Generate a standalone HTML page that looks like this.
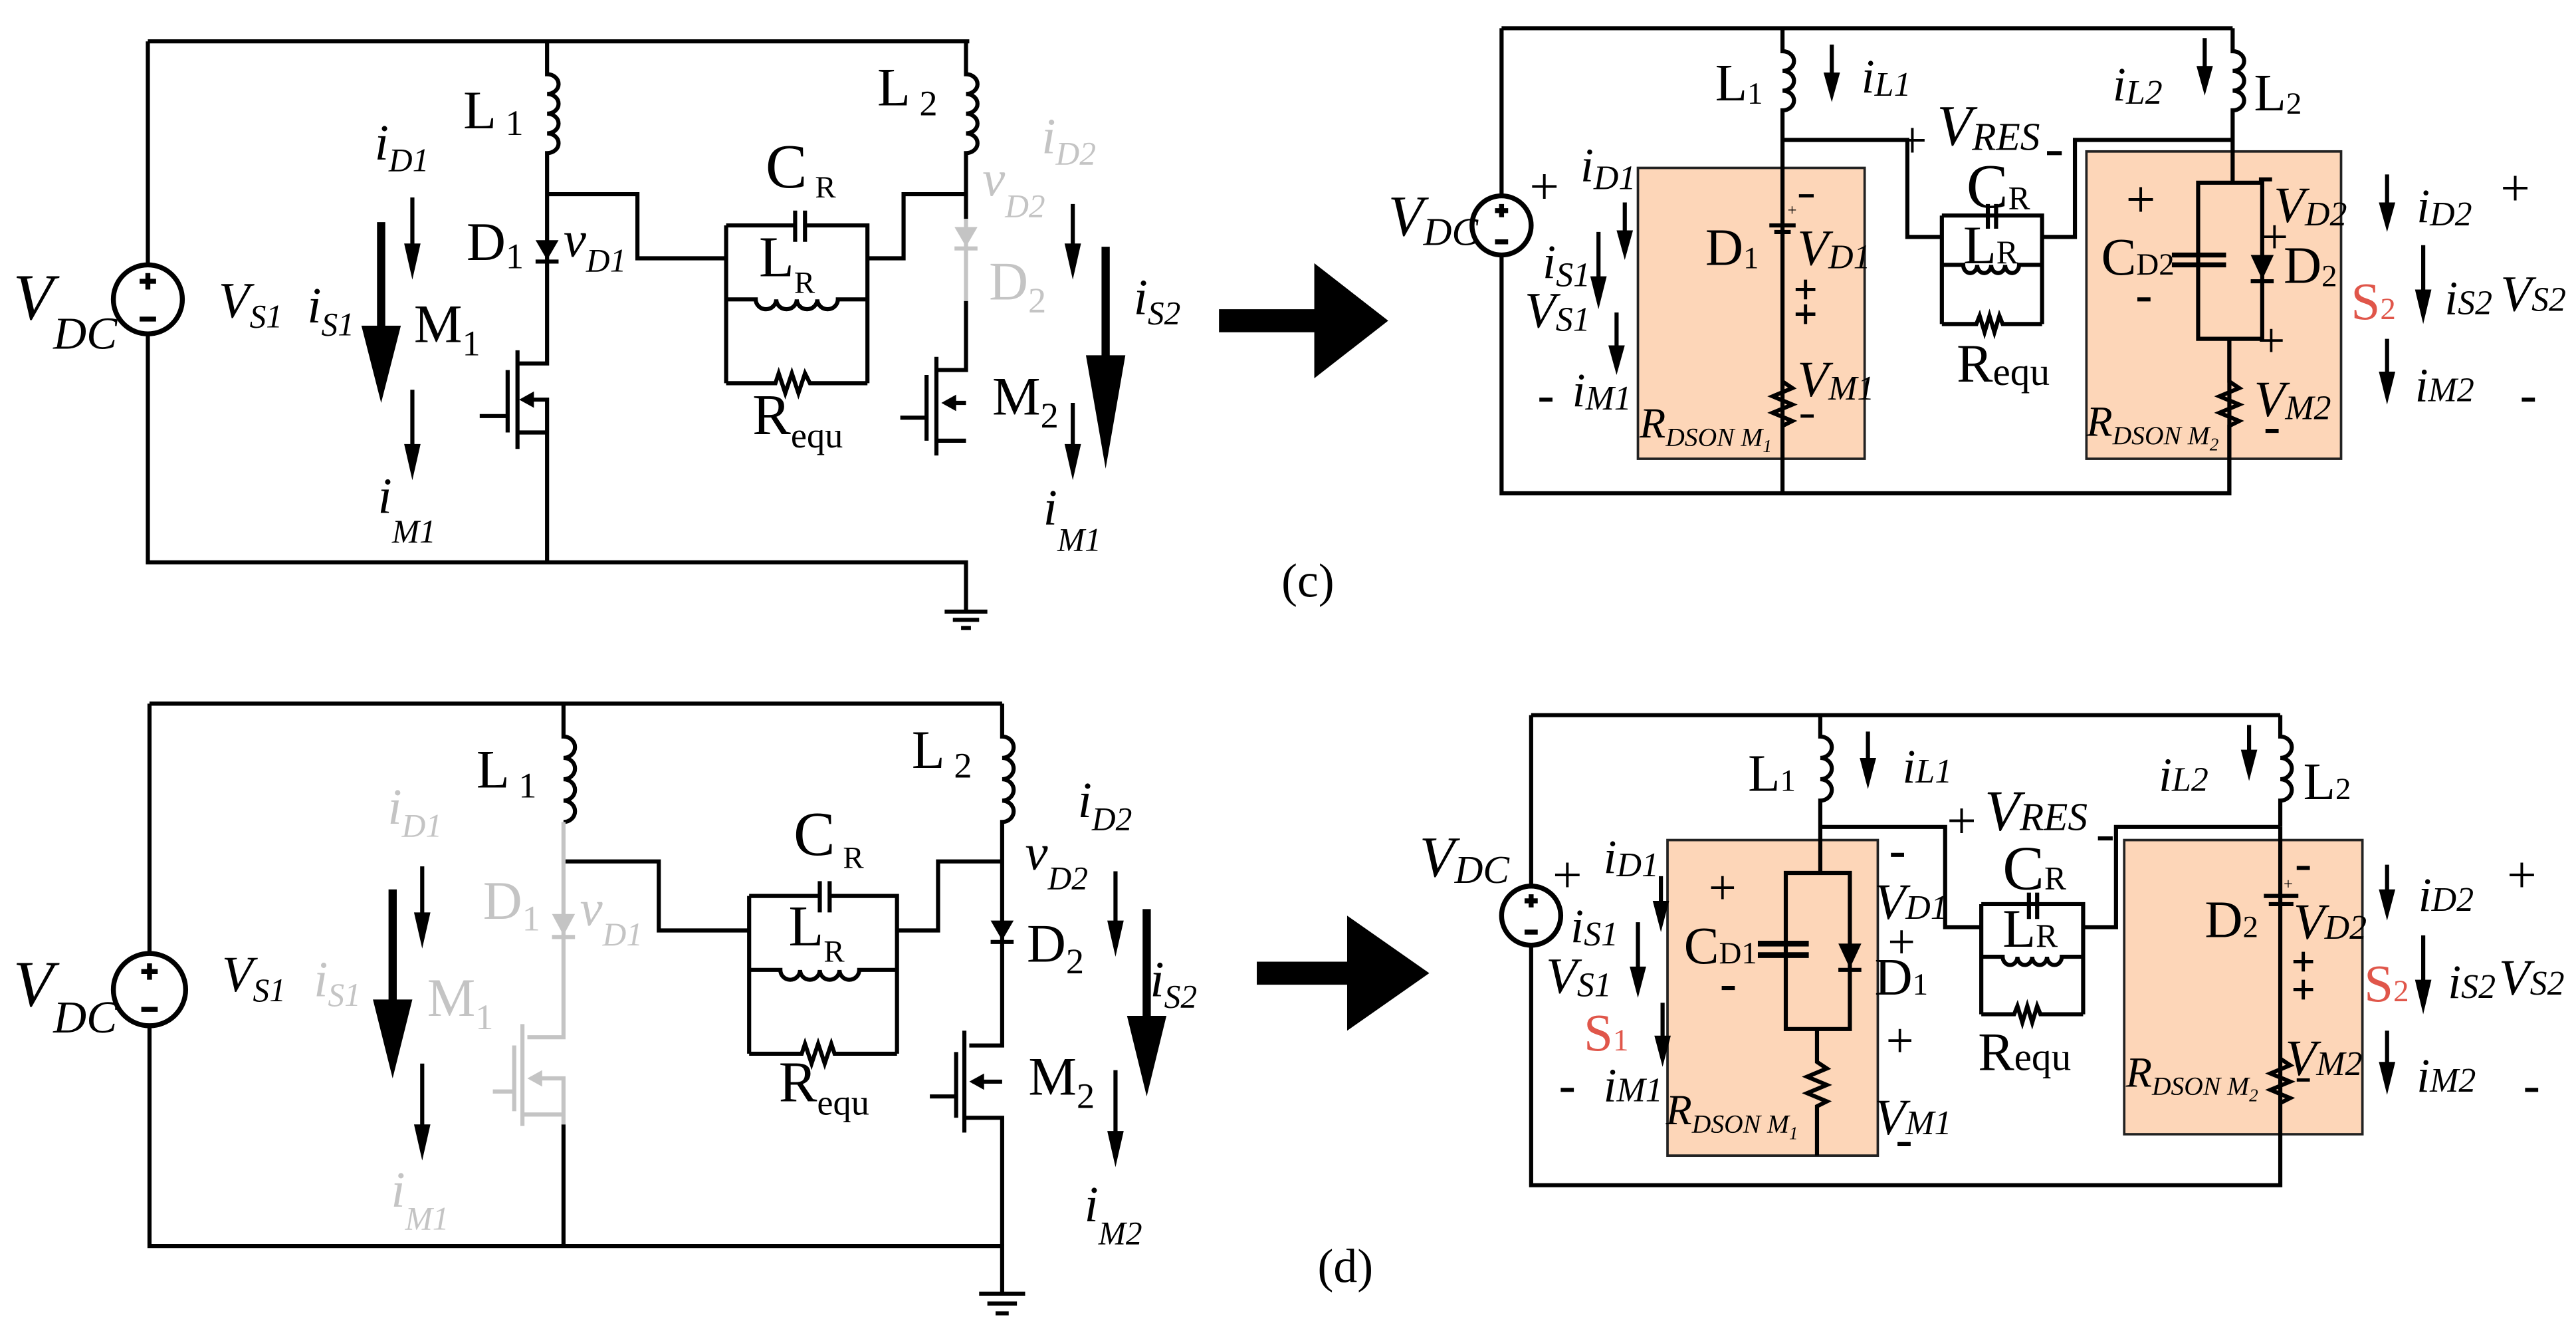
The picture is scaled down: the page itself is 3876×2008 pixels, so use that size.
<!DOCTYPE html>
<html><head><meta charset="utf-8"><style>
html,body{margin:0;padding:0;background:#fff}
svg{display:block}
text{font-family:"Liberation Serif",serif;fill:#000}
.i{font-style:italic}
.g{fill:#c4c4c4}
.r{fill:#e0564a}
</style></head><body>
<svg width="3876" height="2008" viewBox="0 0 1568 812" xmlns="http://www.w3.org/2000/svg">
<g fill="none" stroke="#000" stroke-width="2.5" stroke-linejoin="miter">
<!-- ================= (c) LEFT ================= -->
<path d="M90 25 H590 M90 25 V161 M90 203 V342 H588 V372"/>
<circle cx="90" cy="182" r="21" stroke-width="3" fill="#fff"/>
<path d="M85 171 H95 M90 166 V176 M85 194 H95" stroke-width="3"/>
<path d="M333 25 V45 a7 6 0 0 1 0 12 a7 6 0 0 1 0 12 a7 6 0 0 1 0 12 a7 6 0 0 1 0 12 V221 H315"/>
<path d="M333 118 H388 V157 H442"/>
<path d="M315 213 V273 M309 225 V263 M292 253 H309 M320 243 H333 V342 M315 263 H333"/>
<path d="M442 137 V233 M442 137 H484 M490 137 H528 V233 M484 128 V147 M490 128 V147"/>
<path d="M442 182 H460 a6.25 6 0 0 0 12.5 0 a6.25 6 0 0 0 12.5 0 a6.25 6 0 0 0 12.5 0 a6.25 6 0 0 0 12.5 0 H528"/>
<path d="M442 233 H472 l2 -6 l4 12 l4 -12 l4 12 l4 -12 l3 6 H528"/>
<path d="M528 157 H550 V118 H588"/>
<path d="M588 25 V45 a7 6 0 0 1 0 12 a7 6 0 0 1 0 12 a7 6 0 0 1 0 12 a7 6 0 0 1 0 12 V133"/>
<path d="M588 183 V225 H570"/>
<path d="M570 217 V277 M564 228 V268 M548 254 H564 M575 245 H588 M570 268 H588"/>
<path d="M575 372 H601 M580 377 H596 M585 382 H591"/>
</g>
<polygon points="326,146 340,146 333,158" fill="#000"/>
<path d="M326 159 H340" stroke="#000" stroke-width="2.5"/>
<polygon points="316,243 325,238 325,248" fill="#000"/>
<polygon points="573,245 582,240 582,250" fill="#000"/>
<g stroke="#c4c4c4" stroke-width="2.5" fill="none"><path d="M588 133 V183"/><path d="M581 151 H595"/></g>
<polygon points="581,138 595,138 588,150" fill="#c4c4c4"/>
<g stroke="#000" stroke-width="2.5"><path d="M251 120 V150 M251 237 V272 M653 124 V150 M653 245 V272"/></g>
<polygon points="246,148 256,148 251,170" fill="#000"/>
<polygon points="246,270 256,270 251,292" fill="#000"/>
<polygon points="648,148 658,148 653,170" fill="#000"/>
<polygon points="648,270 658,270 653,292" fill="#000"/>
<path d="M232 135 V200 M673 150 V218" stroke="#000" stroke-width="5"/>
<polygon points="220,198 244,198 232,245" fill="#000"/>
<polygon points="661,216 685,216 673,285" fill="#000"/>
<polygon points="742,188 800,188 800,160 845,195 800,230 800,202 742,202" fill="#000"/>
<text x="8" y="194" class="i" font-size="40">V<tspan font-size="28" dy="18">DC</tspan></text>
<text x="133" y="193" class="i" font-size="31">V<tspan font-size="20" dy="6">S1</tspan></text>
<text x="187" y="196" class="i" font-size="31">i<tspan font-size="20" dy="8">S1</tspan></text>
<text x="228" y="97" class="i" font-size="31">i<tspan font-size="20" dy="7">D1</tspan></text>
<text x="252" y="208" font-size="33">M<tspan font-size="22" dy="8">1</tspan></text>
<text x="230" y="312" class="i" font-size="31">i<tspan font-size="20" dy="18">M1</tspan></text>
<text x="282" y="78" font-size="33">L<tspan font-size="22" dy="4"> 1</tspan></text>
<text x="284" y="158" font-size="33">D<tspan font-size="22" dy="5">1</tspan></text>
<text x="343" y="156" class="i" font-size="31">v<tspan font-size="20" dy="9">D1</tspan></text>
<text x="466" y="114" font-size="38">C<tspan font-size="19" dy="6"> R</tspan></text>
<text x="462" y="168" font-size="35">L<tspan font-size="19" dy="10">R</tspan></text>
<text x="458" y="264" font-size="35">R<tspan font-size="22" dy="8">equ</tspan></text>
<text x="534" y="64" font-size="33">L<tspan font-size="22" dy="6"> 2</tspan></text>
<text x="634" y="93" class="i g" font-size="31">i<tspan font-size="20" dy="7">D2</tspan></text>
<text x="598" y="119" class="i g" font-size="31">v<tspan font-size="20" dy="13">D2</tspan></text>
<text x="602" y="182" class="g" font-size="33">D<tspan font-size="22" dy="8">2</tspan></text>
<text x="604" y="252" font-size="33">M<tspan font-size="22" dy="8">2</tspan></text>
<text x="690" y="191" class="i" font-size="31">i<tspan font-size="20" dy="6">S2</tspan></text>
<text x="635" y="319" class="i" font-size="31">i<tspan font-size="20" dy="16">M1</tspan></text>
<text x="780" y="363" font-size="29">(c)</text>

<!-- ================= (c) RIGHT ================= -->
<rect x="997" y="102" width="138" height="177" fill="#fdd6b8" stroke="#222" stroke-width="1.5"/>
<rect x="1270" y="92" width="155" height="187" fill="#fdd6b8" stroke="#222" stroke-width="1.5"/>
<g fill="none" stroke="#000" stroke-width="2.5">
<path d="M914 17 H1359 M914 17 V119 M914 155 V300 H1357 V206"/>
<path d="M1085 17 V31 a7 6 0 0 1 0 12 a7 6 0 0 1 0 12 a7 6 0 0 1 0 12 V300"/>
<path d="M1085 85 H1161 V144 H1182"/>
<path d="M1182 131 V197 M1182 131 H1243 V197 M1210 124 V139 M1215 124 V139"/>
<path d="M1182 161 H1195 a4.25 5 0 0 0 8.5 0 a4.25 5 0 0 0 8.5 0 a4.25 5 0 0 0 8.5 0 a4.25 5 0 0 0 8.5 0 H1243"/>
<path d="M1182 197 H1203 l2 -5 l3 10 l3 -10 l3 10 l3 -10 l2 5 H1243"/>
<path d="M1243 144 H1263 V85 H1359"/>
<path d="M1359 17 V31 a7 6 0 0 1 0 12 a7 6 0 0 1 0 12 a7 6 0 0 1 0 12 V111"/>
<path d="M1338 111 H1377 V206 H1338 Z"/>
<path d="M1357 206 V232 l6 4 l-12 5 l12 5 l-12 5 l12 5 l-6 3 V300"/>
<path d="M1085 232 l6 4 l-12 5 l12 5 l-12 5 l12 5 l-6 3"/>
</g>
<circle cx="914" cy="137" r="18" fill="#fff" stroke="#000" stroke-width="3"/>
<path d="M910 128 H918 M914 124 V132 M910 147 H918" stroke="#000" stroke-width="3"/>
<path d="M1322 155 H1355 M1322 161 H1355" stroke="#000" stroke-width="3"/>
<polygon points="1370,155 1384,155 1377,170" fill="#000"/>
<path d="M1370 171 H1384" stroke="#000" stroke-width="2.5"/>
<path d="M1077 137 H1093 M1080 141 H1090" stroke="#000" stroke-width="2.5"/>
<g stroke="#000" stroke-width="2.5">
<path d="M989 123 V142 M973 141 V170 M984 190 V212 M1115 27 V46 M1342 23 V42 M1453 106 V125 M1475 149 V178 M1453 206 V228"/>
</g>
<g fill="#000">
<polygon points="984,140 994,140 989,158"/><polygon points="968,168 978,168 973,188"/><polygon points="979,210 989,210 984,228"/>
<polygon points="1110,44 1120,44 1115,62"/><polygon points="1337,40 1347,40 1342,58"/>
<polygon points="1448,123 1458,123 1453,141"/><polygon points="1470,176 1480,176 1475,197"/><polygon points="1448,226 1458,226 1453,246"/>
</g>
<text x="845" y="143" class="i" font-size="35">V<tspan font-size="24" dy="6">DC</tspan></text>
<text x="931" y="124" font-size="32">+</text>
<text x="962" y="110" class="i" font-size="29">i<tspan font-size="21" dy="5">D1</tspan></text>
<text x="939" y="169" class="i" font-size="29">i<tspan font-size="21" dy="5">S1</tspan></text>
<text x="928" y="199" class="i" font-size="31">V<tspan font-size="21" dy="2">S1</tspan></text>
<path d="M937 243 H945" stroke="#000" stroke-width="2.5"/>
<text x="957" y="247" class="i" font-size="29">i<tspan font-size="21" dy="2">M1</tspan></text>
<text x="1038" y="161" font-size="32">D<tspan font-size="19" dy="2">1</tspan></text>
<text x="1094" y="161" class="i" font-size="31">V<tspan font-size="21" dy="2">D1</tspan></text>
<text x="1088" y="131" font-size="10">+</text>
<g stroke="#000" stroke-width="2"><path d="M1095 119 H1104 M1093 176 H1105 M1099 170 V182 M1093 191 H1105 M1099 185 V197 M1096 253 H1104"/></g>
<text x="1094" y="241" class="i" font-size="31">V<tspan font-size="21" dy="2">M1</tspan></text>
<text x="998" y="266" class="i" font-size="26">R<tspan font-size="16" dy="5">DSON M</tspan><tspan font-size="11" dy="4">1</tspan></text>
<text x="1044" y="61" font-size="32">L<tspan font-size="19" dy="2">1</tspan></text>
<text x="1133" y="56" class="i" font-size="29">i<tspan font-size="21" dy="2">L1</tspan></text>
<text x="1155" y="96" font-size="32">+</text>
<text x="1179" y="88" class="i" font-size="35">V<tspan font-size="24" dy="3">RES</tspan></text>
<path d="M1246 93 H1255" stroke="#000" stroke-width="2.5"/>
<text x="1197" y="126" font-size="38">C<tspan font-size="20" dy="1">R</tspan></text>
<text x="1195" y="160" font-size="33">L<tspan font-size="20" dy="0">R</tspan></text>
<text x="1191" y="232" font-size="33">R<tspan font-size="24" dy="2">equ</tspan></text>
<text x="1286" y="61" class="i" font-size="29">i<tspan font-size="21" dy="2">L2</tspan></text>
<text x="1372" y="67" font-size="32">L<tspan font-size="19" dy="2">2</tspan></text>
<text x="1294" y="132" font-size="32">+</text>
<text x="1279" y="167" font-size="32">C<tspan font-size="19" dy="0">D2</tspan></text>
<path d="M1301 182 H1309 M1375 109 H1383 M1379 262 H1387" stroke="#000" stroke-width="2.5"/>
<text x="1384" y="135" class="i" font-size="31">V<tspan font-size="21" dy="2">D2</tspan></text>
<text x="1376" y="154" font-size="30">+</text>
<text x="1390" y="172" font-size="32">D<tspan font-size="19" dy="2">2</tspan></text>
<text x="1374" y="217" font-size="30">+</text>
<text x="1372" y="253" class="i" font-size="31">V<tspan font-size="21" dy="2">M2</tspan></text>
<text x="1270" y="265" class="i" font-size="26">R<tspan font-size="16" dy="5">DSON M</tspan><tspan font-size="11" dy="4">2</tspan></text>
<text x="1471" y="135" class="i" font-size="29">i<tspan font-size="21" dy="2">D2</tspan></text>
<text x="1522" y="125" font-size="32">+</text>
<text x="1431" y="194" class="r" font-size="32">S<tspan font-size="19" dy="0">2</tspan></text>
<text x="1488" y="191" class="i" font-size="29">i<tspan font-size="21" dy="0">S2</tspan></text>
<text x="1522" y="189" class="i" font-size="31">V<tspan font-size="21" dy="0">S2</tspan></text>
<text x="1470" y="244" class="i" font-size="29">i<tspan font-size="21" dy="0">M2</tspan></text>
<path d="M1535 243 H1543" stroke="#000" stroke-width="2.5"/>

<!-- ================= (d) LEFT ================= -->
<g fill="none" stroke="#000" stroke-width="2.5">
<path d="M91 428 H610 M91 428 V580 M91 624 V758 H610 V787"/>
<path d="M343 428 V448 a7 6.5 0 0 1 0 13 a7 6.5 0 0 1 0 13 a7 6.5 0 0 1 0 13 a7 6.5 0 0 1 0 13"/>
<path d="M343 524 H401 V566 H456"/>
<path d="M343 684 V758"/>
<path d="M456 545 V641 M456 545 H499 M505 545 H546 V641 M499 536 V555 M505 536 V555"/>
<path d="M456 590 H475 a6 6 0 0 0 12 0 a6 6 0 0 0 12 0 a6 6 0 0 0 12 0 a6 6 0 0 0 12 0 H546"/>
<path d="M456 641 H488 l2 -6 l4 12 l4 -12 l4 12 l4 -12 l2 6 H546"/>
<path d="M546 566 H571 V524 H610"/>
<path d="M610 428 V448 a7 6.5 0 0 1 0 13 a7 6.5 0 0 1 0 13 a7 6.5 0 0 1 0 13 a7 6.5 0 0 1 0 13 V636 H590"/>
<path d="M587 627 V689 M582 640 V680 M566 667 H582 M592 658 H610 M587 680 H610 V758"/>
<path d="M596 787 H624 M601 793 H619 M606 799 H614"/>
</g>
<polygon points="603,560 617,560 610,572" fill="#000"/>
<path d="M603 573 H617" stroke="#000" stroke-width="2.5"/>
<polygon points="590,658 599,653 599,663" fill="#000"/>
<circle cx="91" cy="602" r="22" fill="#fff" stroke="#000" stroke-width="3"/>
<path d="M86 591 H96 M91 586 V596 M86 614 H96" stroke="#000" stroke-width="3"/>
<g fill="none" stroke="#c4c4c4" stroke-width="2.5">
<path d="M343 500 V524 M343 524 V631 H321 M318 623 V685 M313 636 V676 M300 664 H313 M323 656 H343 V684 M318 678 H343"/>
<path d="M336 570 H350"/>
</g>
<polygon points="336,556 350,556 343,569" fill="#c4c4c4"/>
<polygon points="321,656 330,651 330,661" fill="#c4c4c4"/>
<g stroke="#000" stroke-width="2.5"><path d="M257 527 V557 M257 647 V686 M679 530 V562 M679 651 V690"/></g>
<g fill="#000">
<polygon points="252,555 262,555 257,577"/><polygon points="252,684 262,684 257,706"/>
<polygon points="674,560 684,560 679,582"/><polygon points="674,688 684,688 679,710"/>
</g>
<path d="M239 541 V610 M698 553 V620" stroke="#000" stroke-width="5"/>
<polygon points="227,608 251,608 239,656" fill="#000"/>
<polygon points="686,618 710,618 698,667" fill="#000"/>
<polygon points="765,585 820,585 820,557 870,592 820,627 820,599 765,599" fill="#000"/>
<text x="8" y="612" class="i" font-size="40">V<tspan font-size="28" dy="16">DC</tspan></text>
<text x="135" y="603" class="i" font-size="31">V<tspan font-size="20" dy="6">S1</tspan></text>
<text x="191" y="606" class="i g" font-size="31">i<tspan font-size="20" dy="6">S1</tspan></text>
<text x="236" y="501" class="i g" font-size="31">i<tspan font-size="20" dy="8">D1</tspan></text>
<text x="260" y="618" class="g" font-size="33">M<tspan font-size="22" dy="8">1</tspan></text>
<text x="238" y="734" class="i g" font-size="31">i<tspan font-size="20" dy="14">M1</tspan></text>
<text x="290" y="479" font-size="33">L<tspan font-size="22" dy="6"> 1</tspan></text>
<text x="294" y="559" class="g" font-size="33">D<tspan font-size="22" dy="7">1</tspan></text>
<text x="353" y="563" class="i g" font-size="31">v<tspan font-size="20" dy="12">D1</tspan></text>
<text x="483" y="520" font-size="38">C<tspan font-size="19" dy="8"> R</tspan></text>
<text x="480" y="575" font-size="35">L<tspan font-size="19" dy="10">R</tspan></text>
<text x="474" y="670" font-size="35">R<tspan font-size="22" dy="8">equ</tspan></text>
<text x="555" y="467" font-size="33">L<tspan font-size="22" dy="6"> 2</tspan></text>
<text x="656" y="497" class="i" font-size="31">i<tspan font-size="20" dy="8">D2</tspan></text>
<text x="624" y="529" class="i" font-size="31">v<tspan font-size="20" dy="12">D2</tspan></text>
<text x="625" y="585" font-size="33">D<tspan font-size="22" dy="7">2</tspan></text>
<text x="626" y="666" font-size="33">M<tspan font-size="22" dy="8">2</tspan></text>
<text x="700" y="606" class="i" font-size="31">i<tspan font-size="20" dy="7">S2</tspan></text>
<text x="660" y="743" class="i" font-size="31">i<tspan font-size="20" dy="14">M2</tspan></text>
<text x="802" y="780" font-size="29">(d)</text>

<!-- ================= (d) RIGHT ================= -->
<rect x="1015" y="511" width="128" height="192" fill="#fdd6b8" stroke="#222" stroke-width="1.5"/>
<rect x="1293" y="511" width="145" height="179" fill="#fdd6b8" stroke="#222" stroke-width="1.5"/>
<g fill="none" stroke="#000" stroke-width="2.5">
<path d="M932 435 H1388 M932 435 V539 M932 575 V721 H1388 V503"/>
<path d="M1108 435 V448 a7 6.5 0 0 1 0 13 a7 6.5 0 0 1 0 13 a7 6.5 0 0 1 0 13 V531"/>
<path d="M1087 531 H1126 V626 H1087 Z"/>
<path d="M1106 626 V646 l6 4 l-12 5 l12 5 l-12 5 l12 5 l-6 3 V703"/>
<path d="M1108 503 H1184 V564 H1206"/>
<path d="M1206 550 V617 M1206 550 H1268 V617 M1235 543 V559 M1240 543 V559"/>
<path d="M1206 582 H1219 a4.5 5 0 0 0 9 0 a4.5 5 0 0 0 9 0 a4.5 5 0 0 0 9 0 a4.5 5 0 0 0 9 0 H1268"/>
<path d="M1206 617 H1226 l2 -5 l3 10 l3 -10 l3 10 l3 -10 l2 5 H1268"/>
<path d="M1268 564 H1288 V503 H1388"/>
<path d="M1388 435 V448 a7 6.5 0 0 1 0 13 a7 6.5 0 0 1 0 13 a7 6.5 0 0 1 0 13 V503"/>
<path d="M1388 644 l6 4 l-12 5 l12 5 l-12 5 l12 5 l-6 3"/>
</g>
<path d="M1070 574 H1101 M1070 581 H1101" stroke="#000" stroke-width="3.5"/>
<polygon points="1119,574 1133,574 1126,589" fill="#000"/>
<path d="M1119 590 H1133" stroke="#000" stroke-width="2.5"/>
<path d="M1378 545 H1399 M1381 550 H1396" stroke="#000" stroke-width="2.5"/>
<circle cx="932" cy="557" r="18" fill="#fff" stroke="#000" stroke-width="3"/>
<path d="M928 548 H936 M932 544 V552 M928 567 H936" stroke="#000" stroke-width="3"/>
<g stroke="#000" stroke-width="2.5">
<path d="M1011 533 V550 M997 561 V590 M1012 610 V632 M1137 445 V463 M1369 441 V458 M1453 526 V543 M1475 569 V598 M1453 627 V648"/>
</g>
<g fill="#000">
<polygon points="1006,548 1016,548 1011,567"/><polygon points="992,588 1002,588 997,607"/><polygon points="1007,630 1017,630 1012,649"/>
<polygon points="1132,461 1142,461 1137,480"/><polygon points="1364,456 1374,456 1369,475"/>
<polygon points="1448,541 1458,541 1453,560"/><polygon points="1470,596 1480,596 1475,617"/><polygon points="1448,646 1458,646 1453,666"/>
</g>
<text x="864" y="533" class="i" font-size="35">V<tspan font-size="24" dy="4">DC</tspan></text>
<text x="945" y="543" font-size="32">+</text>
<text x="976" y="531" class="i" font-size="29">i<tspan font-size="21" dy="2">D1</tspan></text>
<text x="956" y="573" class="i" font-size="29">i<tspan font-size="21" dy="2">S1</tspan></text>
<text x="941" y="604" class="i" font-size="31">V<tspan font-size="21" dy="2">S1</tspan></text>
<text x="964" y="639" class="r" font-size="32">S<tspan font-size="19" dy="0">1</tspan></text>
<path d="M950 663 H958" stroke="#000" stroke-width="2.5"/>
<text x="976" y="670" class="i" font-size="29">i<tspan font-size="21" dy="0">M1</tspan></text>
<text x="1040" y="550" font-size="30">+</text>
<text x="1025" y="586" font-size="32">C<tspan font-size="19" dy="0">D1</tspan></text>
<path d="M1048 601 H1056" stroke="#000" stroke-width="2.5"/>
<text x="1014" y="684" class="i" font-size="26">R<tspan font-size="16" dy="5">DSON M</tspan><tspan font-size="11" dy="4">1</tspan></text>
<path d="M1151 520 H1159 M1155 696 H1163" stroke="#000" stroke-width="2.5"/>
<text x="1141" y="559" class="i" font-size="31">V<tspan font-size="21" dy="0">D1</tspan></text>
<text x="1149" y="583" font-size="30">+</text>
<text x="1141" y="605" font-size="32">D<tspan font-size="19" dy="0">1</tspan></text>
<text x="1148" y="643" font-size="30">+</text>
<text x="1141" y="690" class="i" font-size="31">V<tspan font-size="21" dy="0">M1</tspan></text>
<text x="1064" y="481" font-size="32">L<tspan font-size="19" dy="0">1</tspan></text>
<text x="1158" y="476" class="i" font-size="29">i<tspan font-size="21" dy="0">L1</tspan></text>
<text x="1185" y="510" font-size="32">+</text>
<text x="1208" y="505" class="i" font-size="35">V<tspan font-size="24" dy="0">RES</tspan></text>
<path d="M1277 510 H1286" stroke="#000" stroke-width="2.5"/>
<text x="1219" y="541" font-size="38">C<tspan font-size="20" dy="0">R</tspan></text>
<text x="1219" y="576" font-size="33">L<tspan font-size="20" dy="0">R</tspan></text>
<text x="1204" y="651" font-size="33">R<tspan font-size="24" dy="0">equ</tspan></text>
<text x="1314" y="481" class="i" font-size="29">i<tspan font-size="21" dy="0">L2</tspan></text>
<text x="1402" y="486" font-size="32">L<tspan font-size="19" dy="0">2</tspan></text>
<path d="M1398 528 H1406" stroke="#000" stroke-width="2.5"/>
<text x="1390" y="541" font-size="10">+</text>
<text x="1342" y="570" font-size="32">D<tspan font-size="19" dy="0">2</tspan></text>
<text x="1396" y="571" class="i" font-size="31">V<tspan font-size="21" dy="0">D2</tspan></text>
<g stroke="#000" stroke-width="2"><path d="M1396 585 H1408 M1402 579 V591 M1396 602 H1408 M1402 596 V608 M1398 657 H1406"/></g>
<text x="1391" y="654" class="i" font-size="31">V<tspan font-size="21" dy="0">M2</tspan></text>
<text x="1294" y="661" class="i" font-size="26">R<tspan font-size="16" dy="5">DSON M</tspan><tspan font-size="11" dy="4">2</tspan></text>
<text x="1472" y="554" class="i" font-size="29">i<tspan font-size="21" dy="0">D2</tspan></text>
<text x="1526" y="543" font-size="32">+</text>
<text x="1439" y="609" class="r" font-size="32">S<tspan font-size="19" dy="0">2</tspan></text>
<text x="1490" y="607" class="i" font-size="29">i<tspan font-size="21" dy="0">S2</tspan></text>
<text x="1521" y="605" class="i" font-size="31">V<tspan font-size="21" dy="0">S2</tspan></text>
<text x="1471" y="664" class="i" font-size="29">i<tspan font-size="21" dy="0">M2</tspan></text>
<path d="M1537 663 H1545" stroke="#000" stroke-width="2.5"/>
</svg>
</body></html>
